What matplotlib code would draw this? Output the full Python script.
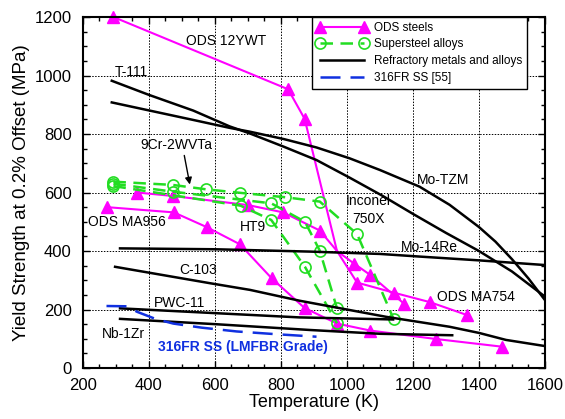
import numpy as np
import matplotlib
matplotlib.use('agg')
import matplotlib.pyplot as plt
from matplotlib.ticker import MultipleLocator

plt.rcParams['font.family'] = ['Liberation Sans', 'DejaVu Sans']

# ODS steels (magenta, triangles)
ods_12ywt_t = [293, 822, 872, 970]
ods_12ywt_ys = [1200, 953, 852, 400]
ht9_t = [365, 474, 701, 807, 918, 970, 1023, 1071, 1173]
ht9_ys = [600, 588, 557, 532, 470, 400, 356, 318, 220]
ma754_t = [970, 1031, 1144, 1252, 1364]
ma754_ys = [400, 292, 257, 225, 181]
ma956_t = [273, 476, 575, 676, 772, 872, 970, 1071, 1271, 1469]
ma956_ys = [550, 532, 482, 423, 307, 205, 152, 128, 99, 73]

# supersteel alloys (green, open circles)
ss_a_t = [293, 472, 573, 676, 812, 918, 1031, 1142]
ss_a_ys = [637, 626, 611, 599, 584, 569, 458, 166]
ss_b_t = [293, 472, 771, 873, 918, 970]
ss_b_ys = [630, 603, 563, 500, 401, 204]
ss_c_t = [293, 678, 771, 873, 970]
ss_c_ys = [622, 555, 506, 346, 153]

# refractory metals and alloys (black)
t111_t = [288, 400, 535, 645, 706, 808, 908, 1008, 1109, 1200, 1300, 1400, 1500, 1600]
t111_ys = [982, 934, 880, 826, 802, 757, 711, 651, 588, 527, 462, 400, 330, 244]
mo_tzm_t = [288, 535, 645, 706, 808, 908, 1008, 1100, 1220, 1311, 1400, 1450, 1500, 1550, 1600]
mo_tzm_ys = [908, 848, 821, 808, 783, 754, 717, 677, 620, 558, 482, 432, 372, 306, 232]
mo14re_t = [313, 600, 888, 1100, 1220, 1400, 1600]
mo14re_ys = [409, 406, 398, 390, 381, 368, 352]
c103_t = [298, 585, 707, 857, 1000, 1119, 1311, 1400, 1482, 1600]
c103_ys = [346, 290, 267, 230, 200, 175, 141, 120, 96, 75]
pwc11_t = [313, 857, 1140]
pwc11_ys = [204, 173, 166]
nb1zr_t = [313, 600, 888, 1100, 1319]
nb1zr_ys = [168, 150, 130, 117, 112]

# 316FR SS (blue, dashed)
fr316_t = [272, 333, 365, 420, 474, 560, 666, 780, 908]
fr316_ys = [212, 211, 192, 168, 152, 138, 125, 116, 107]

magenta = '#ff00ff'
green = '#22dd22'
blue = '#1030e0'

fig = plt.figure(figsize=(5.65, 4.19), dpi=100)
ax = fig.add_axes([0.1464, 0.1217, 0.8182, 0.8377])

tri = dict(color=magenta, lw=1.5, marker='^', ms=8, clip_on=False)
ax.plot(ods_12ywt_t, ods_12ywt_ys, markevery=[0, 1, 2], label='ODS steels', **tri)
ax.plot(ht9_t, ht9_ys, markevery=[0, 1, 2, 3, 4, 6, 7, 8], **tri)
ax.plot(ma754_t, ma754_ys, markevery=[1, 2, 3, 4], **tri)
ax.plot(ma956_t, ma956_ys, **tri)

circ = dict(color=green, lw=1.8, ls=(0, (5, 3)), marker='o', ms=8, mfc='none', mew=1.2)
ax.plot(ss_a_t, ss_a_ys, label='Supersteel alloys', **circ)
ax.plot(ss_b_t, ss_b_ys, **circ)
ax.plot(ss_c_t, ss_c_ys, **circ)

blk = dict(color='black', lw=1.8)
ax.plot(t111_t, t111_ys, label='Refractory metals and alloys', **blk)
ax.plot(mo_tzm_t, mo_tzm_ys, **blk)
ax.plot(mo14re_t, mo14re_ys, **blk)
ax.plot(c103_t, c103_ys, **blk)
ax.plot(pwc11_t, pwc11_ys, **blk)
ax.plot(nb1zr_t, nb1zr_ys, **blk)

ax.plot(fr316_t, fr316_ys, color=blue, lw=1.8, ls=(0, (8, 4)), label='316FR SS [55]')

# curve labels
fs = 10
ax.text(635, 1119, 'ODS 12YWT', fontsize=fs, ha='center', va='center')
ax.text(348, 1013, 'T-111', fontsize=fs, ha='center', va='center')
ax.text(484, 762, '9Cr-2WVTa', fontsize=fs, ha='center', va='center')
ax.annotate('', xy=(526, 618), xytext=(506, 736),
            arrowprops=dict(arrowstyle='-|>', color='black', lw=1, mutation_scale=10))
ax.text(333, 500, 'ODS MA956', fontsize=fs, ha='center', va='center')
ax.text(716, 483, 'HT9', fontsize=fs, ha='center', va='center')
ax.text(550, 335, 'C-103', fontsize=fs, ha='center', va='center')
ax.text(494, 223, 'PWC-11', fontsize=fs, ha='center', va='center')
ax.text(323, 115, 'Nb-1Zr', fontsize=fs, ha='center', va='center')
ax.text(686, 73, '316FR SS (LMFBR Grade)', fontsize=fs, ha='center', va='center',
        color=blue, fontweight='bold')
ax.text(1064, 540, 'Inconel\n750X', fontsize=fs, ha='center', va='center', linespacing=1.3)
ax.text(1290, 643, 'Mo-TZM', fontsize=fs, ha='center', va='center')
ax.text(1251, 413, 'Mo-14Re', fontsize=fs, ha='center', va='center')
ax.text(1391, 244, 'ODS MA754', fontsize=fs, ha='center', va='center')

ax.set_xlim(200, 1600)
ax.set_ylim(0, 1200)
ax.xaxis.set_major_locator(MultipleLocator(200))
ax.xaxis.set_minor_locator(MultipleLocator(50))
ax.yaxis.set_major_locator(MultipleLocator(200))
ax.yaxis.set_minor_locator(MultipleLocator(50))
ax.tick_params(which='both', direction='in', top=True, right=True, labelsize=12, width=1)
ax.tick_params(which='major', length=5)
ax.tick_params(which='minor', length=3)
ax.tick_params(axis='x', pad=7)
ax.tick_params(axis='y', pad=8)
ax.grid(True, which='major', ls=(0, (1.5, 1.5)), color='black', lw=0.7)
for s in ax.spines.values():
    s.set_linewidth(1.5)

ax.set_xlabel('Temperature (K)', fontsize=13, labelpad=1)
ax.set_ylabel('Yield Strength at 0.2% Offset (MPa)', fontsize=13.5, labelpad=3)

leg = ax.legend(loc='upper right', bbox_to_anchor=(0.962, 1.0), borderaxespad=0,
                fontsize=8.5, numpoints=2, handlelength=4.3, fancybox=False,
                edgecolor='black', framealpha=1, labelspacing=0.4, borderpad=0.4,
                handletextpad=0.6)
leg.get_frame().set_linewidth(1)

fig.savefig('out.png', dpi=100)
